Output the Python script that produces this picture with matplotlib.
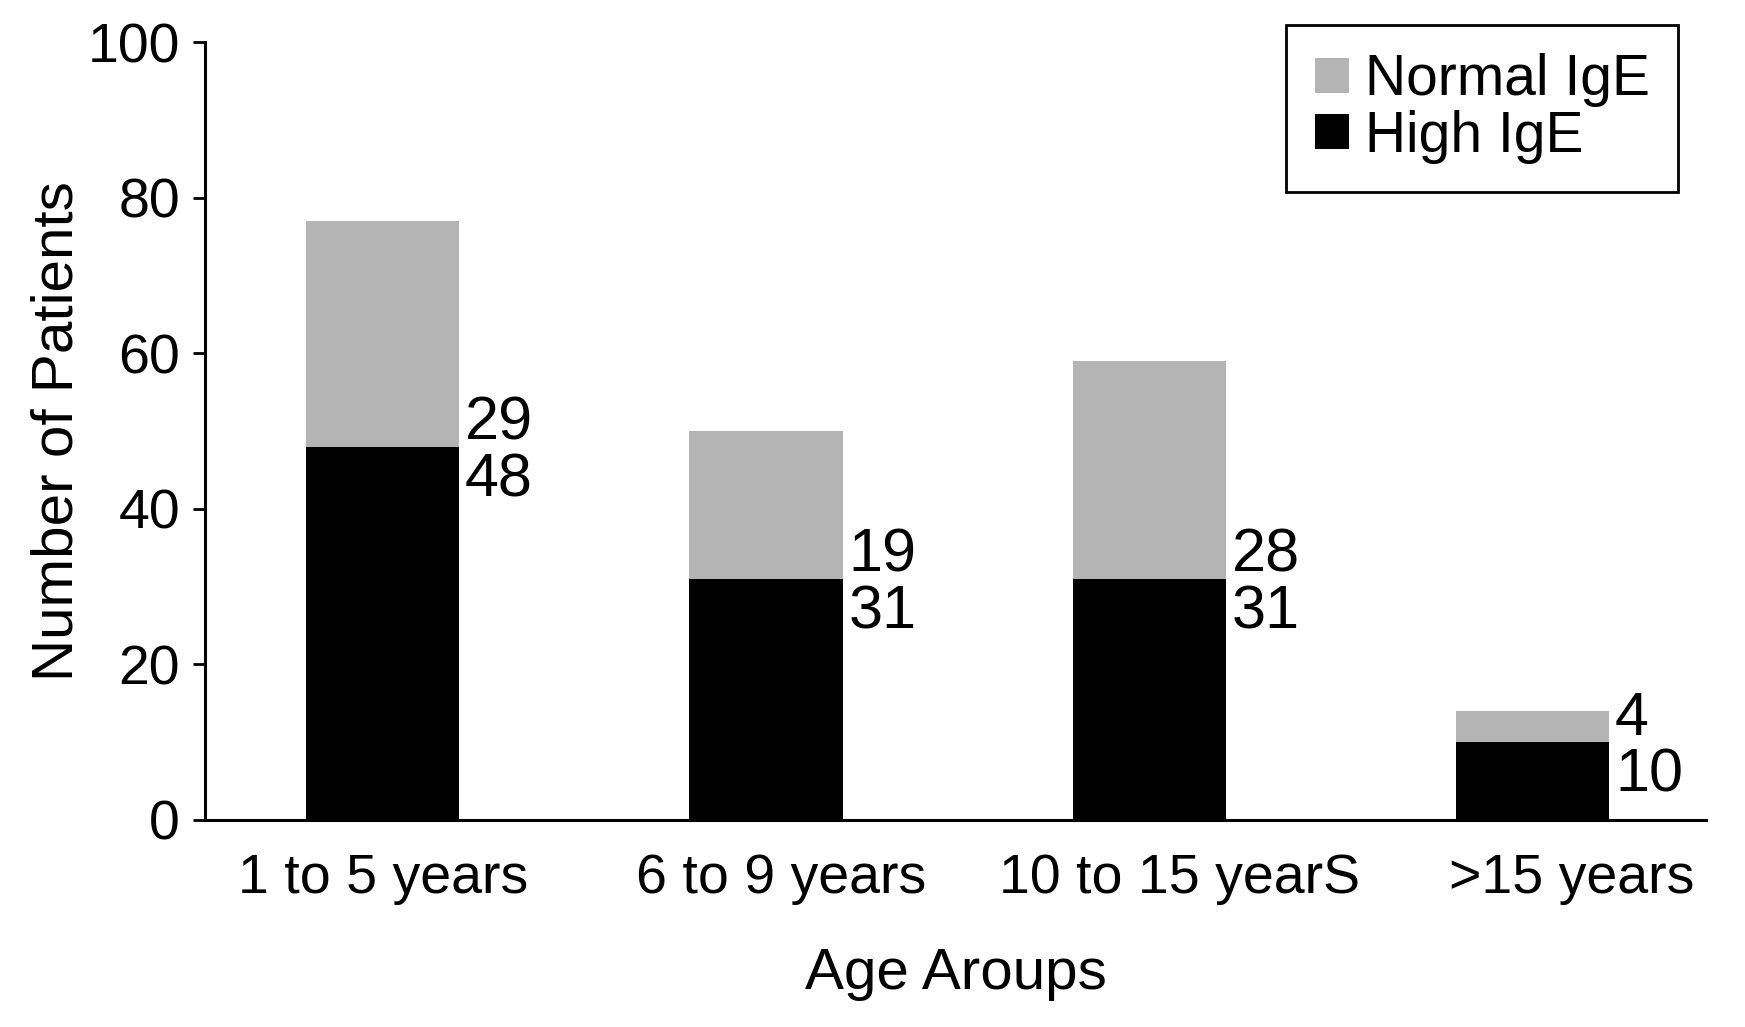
import matplotlib
matplotlib.use('Agg')
import matplotlib.pyplot as plt
import matplotlib.transforms as mtransforms
from matplotlib.patches import Patch
import numpy as np

categories = ['1 to 5 years', '6 to 9 years', '10 to 15 yearS', '>15 years']
high_ige = [48, 31, 31, 10]
normal_ige = [29, 19, 28, 4]
y_ticks = [0, 20, 40, 60, 80, 100]

plt.rcParams['font.family'] = ['Liberation Sans', 'DejaVu Sans']

GREY = '#b4b4b4'
LABEL_NUDGE_PT = [0, 11, 22, 28]   # horizontal shift of category labels (layout only)

fig = plt.figure(figsize=(17.45, 10.27), dpi=100)
ax = fig.add_axes([0.11748, 0.20156, 0.86017, 0.75725])
x = np.arange(len(categories))
w = 0.4
ax.bar(x, high_ige, w, color='black', linewidth=0)
ax.bar(x, normal_ige, w, bottom=high_ige, color=GREY, linewidth=0)

for xi, hi, ni in zip(x, high_ige, normal_ige):
    ax.annotate(str(ni), xy=(xi + w / 2, hi), xytext=(4, 5),
                textcoords='offset points', ha='left', va='baseline', fontsize=44)
    ax.annotate(str(hi), xy=(xi + w / 2, hi), xytext=(4, -4),
                textcoords='offset points', ha='left', va='top', fontsize=44)

ax.set_xlim(-0.4636, 3.452)
ax.set_ylim(0, 100)
ax.set_yticks(y_ticks)
ax.set_xticks(x)
ax.set_xticklabels(categories)

for s in ['top', 'right']:
    ax.spines[s].set_visible(False)
for s in ['left', 'bottom']:
    ax.spines[s].set_linewidth(2.2)

ax.tick_params(axis='y', direction='out', length=9, width=2, pad=9, labelsize=40)
ax.tick_params(axis='x', length=0, pad=24, labelsize=40)

for lab, dx in zip(ax.get_xticklabels(), LABEL_NUDGE_PT):
    lab.set_transform(lab.get_transform() +
                      mtransforms.ScaledTranslation(dx / 72, 0, fig.dpi_scale_trans))

ax.set_xlabel('Age Aroups', fontsize=42, labelpad=30)
ax.set_ylabel('Number of Patients', fontsize=42, labelpad=2)

handles = [Patch(facecolor=GREY, edgecolor='none'), Patch(facecolor='black', edgecolor='none')]
leg = ax.legend(handles, ['Normal IgE', 'High IgE'], loc='upper right',
                bbox_to_anchor=(1678.3 / 1745, 1 - 25 / 1027), bbox_transform=fig.transFigure,
                borderaxespad=0, fontsize=41, frameon=True, fancybox=False,
                handlelength=0.6, handleheight=0.58, handletextpad=0.28,
                labelspacing=0.04, borderpad=0.5, framealpha=1)
leg.get_frame().set_edgecolor('black')
leg.get_frame().set_linewidth(2)

fig.savefig('out.png', dpi=100)
